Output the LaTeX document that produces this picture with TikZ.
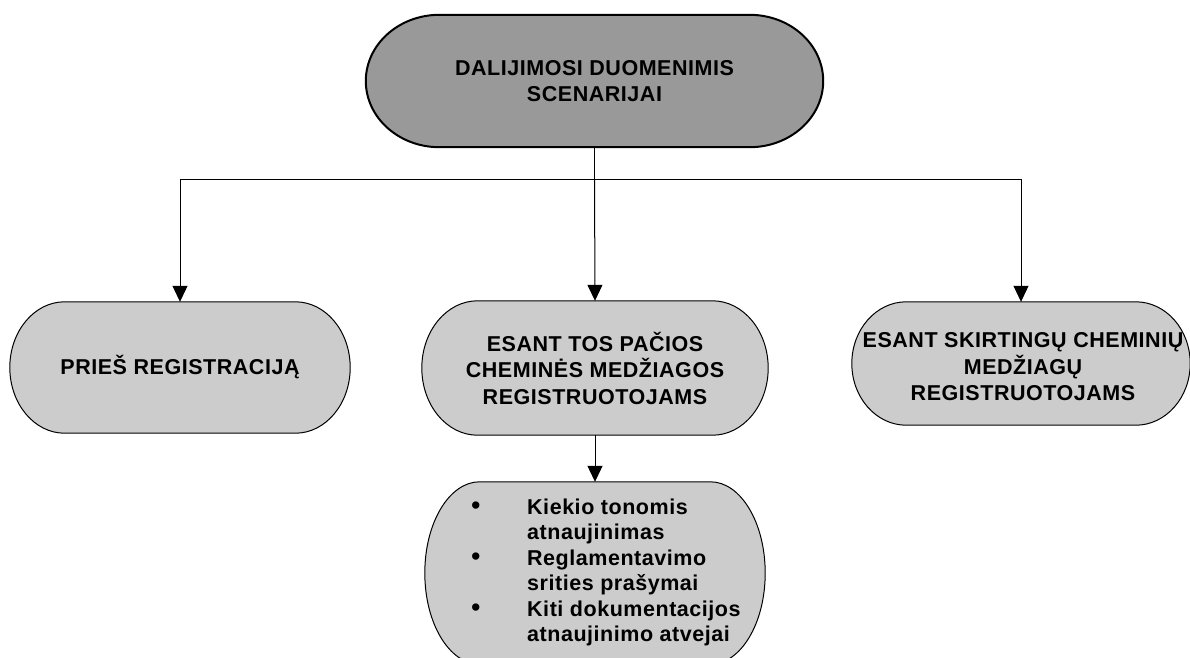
\documentclass[tikz,border=0pt]{standalone}
\usepackage{fontspec}
\setmainfont{Liberation Sans}[LetterSpace=2.5]
\usetikzlibrary{arrows.meta,calc,backgrounds}
\definecolor{lightfill}{HTML}{CCCCCC}
\definecolor{darkfill}{HTML}{999999}
\newcommand\termshape[2][]{%
  \path[draw=black, fill=lightfill, line width=1pt, #1] let \p1=(#2.north west), \p2=(#2.south east),
    \n1={0.161*(\x2-\x1)}, \n2={(\y1-\y2)/2}, \n3={0.5523*0.161*(\x2-\x1)}, \n4={0.5523*(\y1-\y2)/2} in
    (\x1+\n1,\y1) -- (\x2-\n1,\y1)
    .. controls (\x2-\n1+\n3,\y1) and (\x2,\y2+\n2+\n4) .. (\x2,\y2+\n2)
    .. controls (\x2,\y2+\n2-\n4) and (\x2-\n1+\n3,\y2) .. (\x2-\n1,\y2)
    -- (\x1+\n1,\y2)
    .. controls (\x1+\n1-\n3,\y2) and (\x1,\y2+\n2-\n4) .. (\x1,\y2+\n2)
    .. controls (\x1,\y2+\n2+\n4) and (\x1+\n1-\n3,\y1) .. (\x1+\n1,\y1) -- cycle;}
\newcommand\bul{{\fontsize{27}{27}\selectfont\textbullet}}
\begin{document}
\begin{tikzpicture}[x=1pt,y=-1pt,
  pill/.style={inner sep=0pt, align=center,
    font=\bfseries\fontsize{21.5}{26.5}\selectfont},
  conn/.style={line width=1pt, draw=black},
  arr/.style={conn, -{Triangle[width=15pt,length=16pt]}}]
\useasboundingbox (0,0) rectangle (1190,657);
\node[pill, minimum width=457pt, minimum height=132pt]
  (top) at (594.5,81) {DALIJIMOSI DUOMENIMIS\\SCENARIJAI};
\node[pill, minimum width=340pt, minimum height=131pt]
  (left) at (180,367.5) {PRIEŠ REGISTRACIJĄ};
\node[pill, minimum width=346pt, minimum height=134pt]
  (mid) at (595,368) {ESANT TOS PAČIOS\\CHEMINĖS MEDŽIAGOS\\REGISTRUOTOJAMS};
\node[pill, minimum width=338pt, minimum height=123pt]
  (right) at (1021,363.5) {};
\node[pill]
  (righttext) at (1023,367) {ESANT SKIRTINGŲ CHEMINIŲ\\MEDŽIAGŲ\\REGISTRUOTOJAMS};
\node[pill, minimum width=340pt, minimum height=182pt]
  (bot) at (595,573) {};
\node[anchor=west, inner sep=0pt, font=\fontsize{21.5}{25.5}\selectfont]
  (bottext) at (471,573) {\begin{tabular}{@{}p{56pt}@{}l@{}}
  \bul & \textbf{Kiekio tonomis}\\
       & \textbf{atnaujinimas}\\
  \bul & \textbf{Reglamentavimo}\\
       & \textbf{srities prašymai}\\
  \bul & \textbf{Kiti dokumentacijos}\\
       & \textbf{atnaujinimo atvejai}
  \end{tabular}};
\begin{scope}[on background layer]
  \fill[white] (0,0) rectangle (1190,657);
  \termshape[fill=darkfill, line width=2pt]{top}
  \termshape{left}
  \termshape{mid}
  \termshape{right}
  \termshape{bot}
\end{scope}
\coordinate (j) at (594.5,179);
\draw[conn] (top.south) -- (j);
\draw[arr] (j) -| (left.north);
\draw[arr] (j) -| (right.north);
\draw[arr] (j) -- (mid.north);
\draw[arr] (mid.south) -- (bot.north);
\end{tikzpicture}
\end{document}
